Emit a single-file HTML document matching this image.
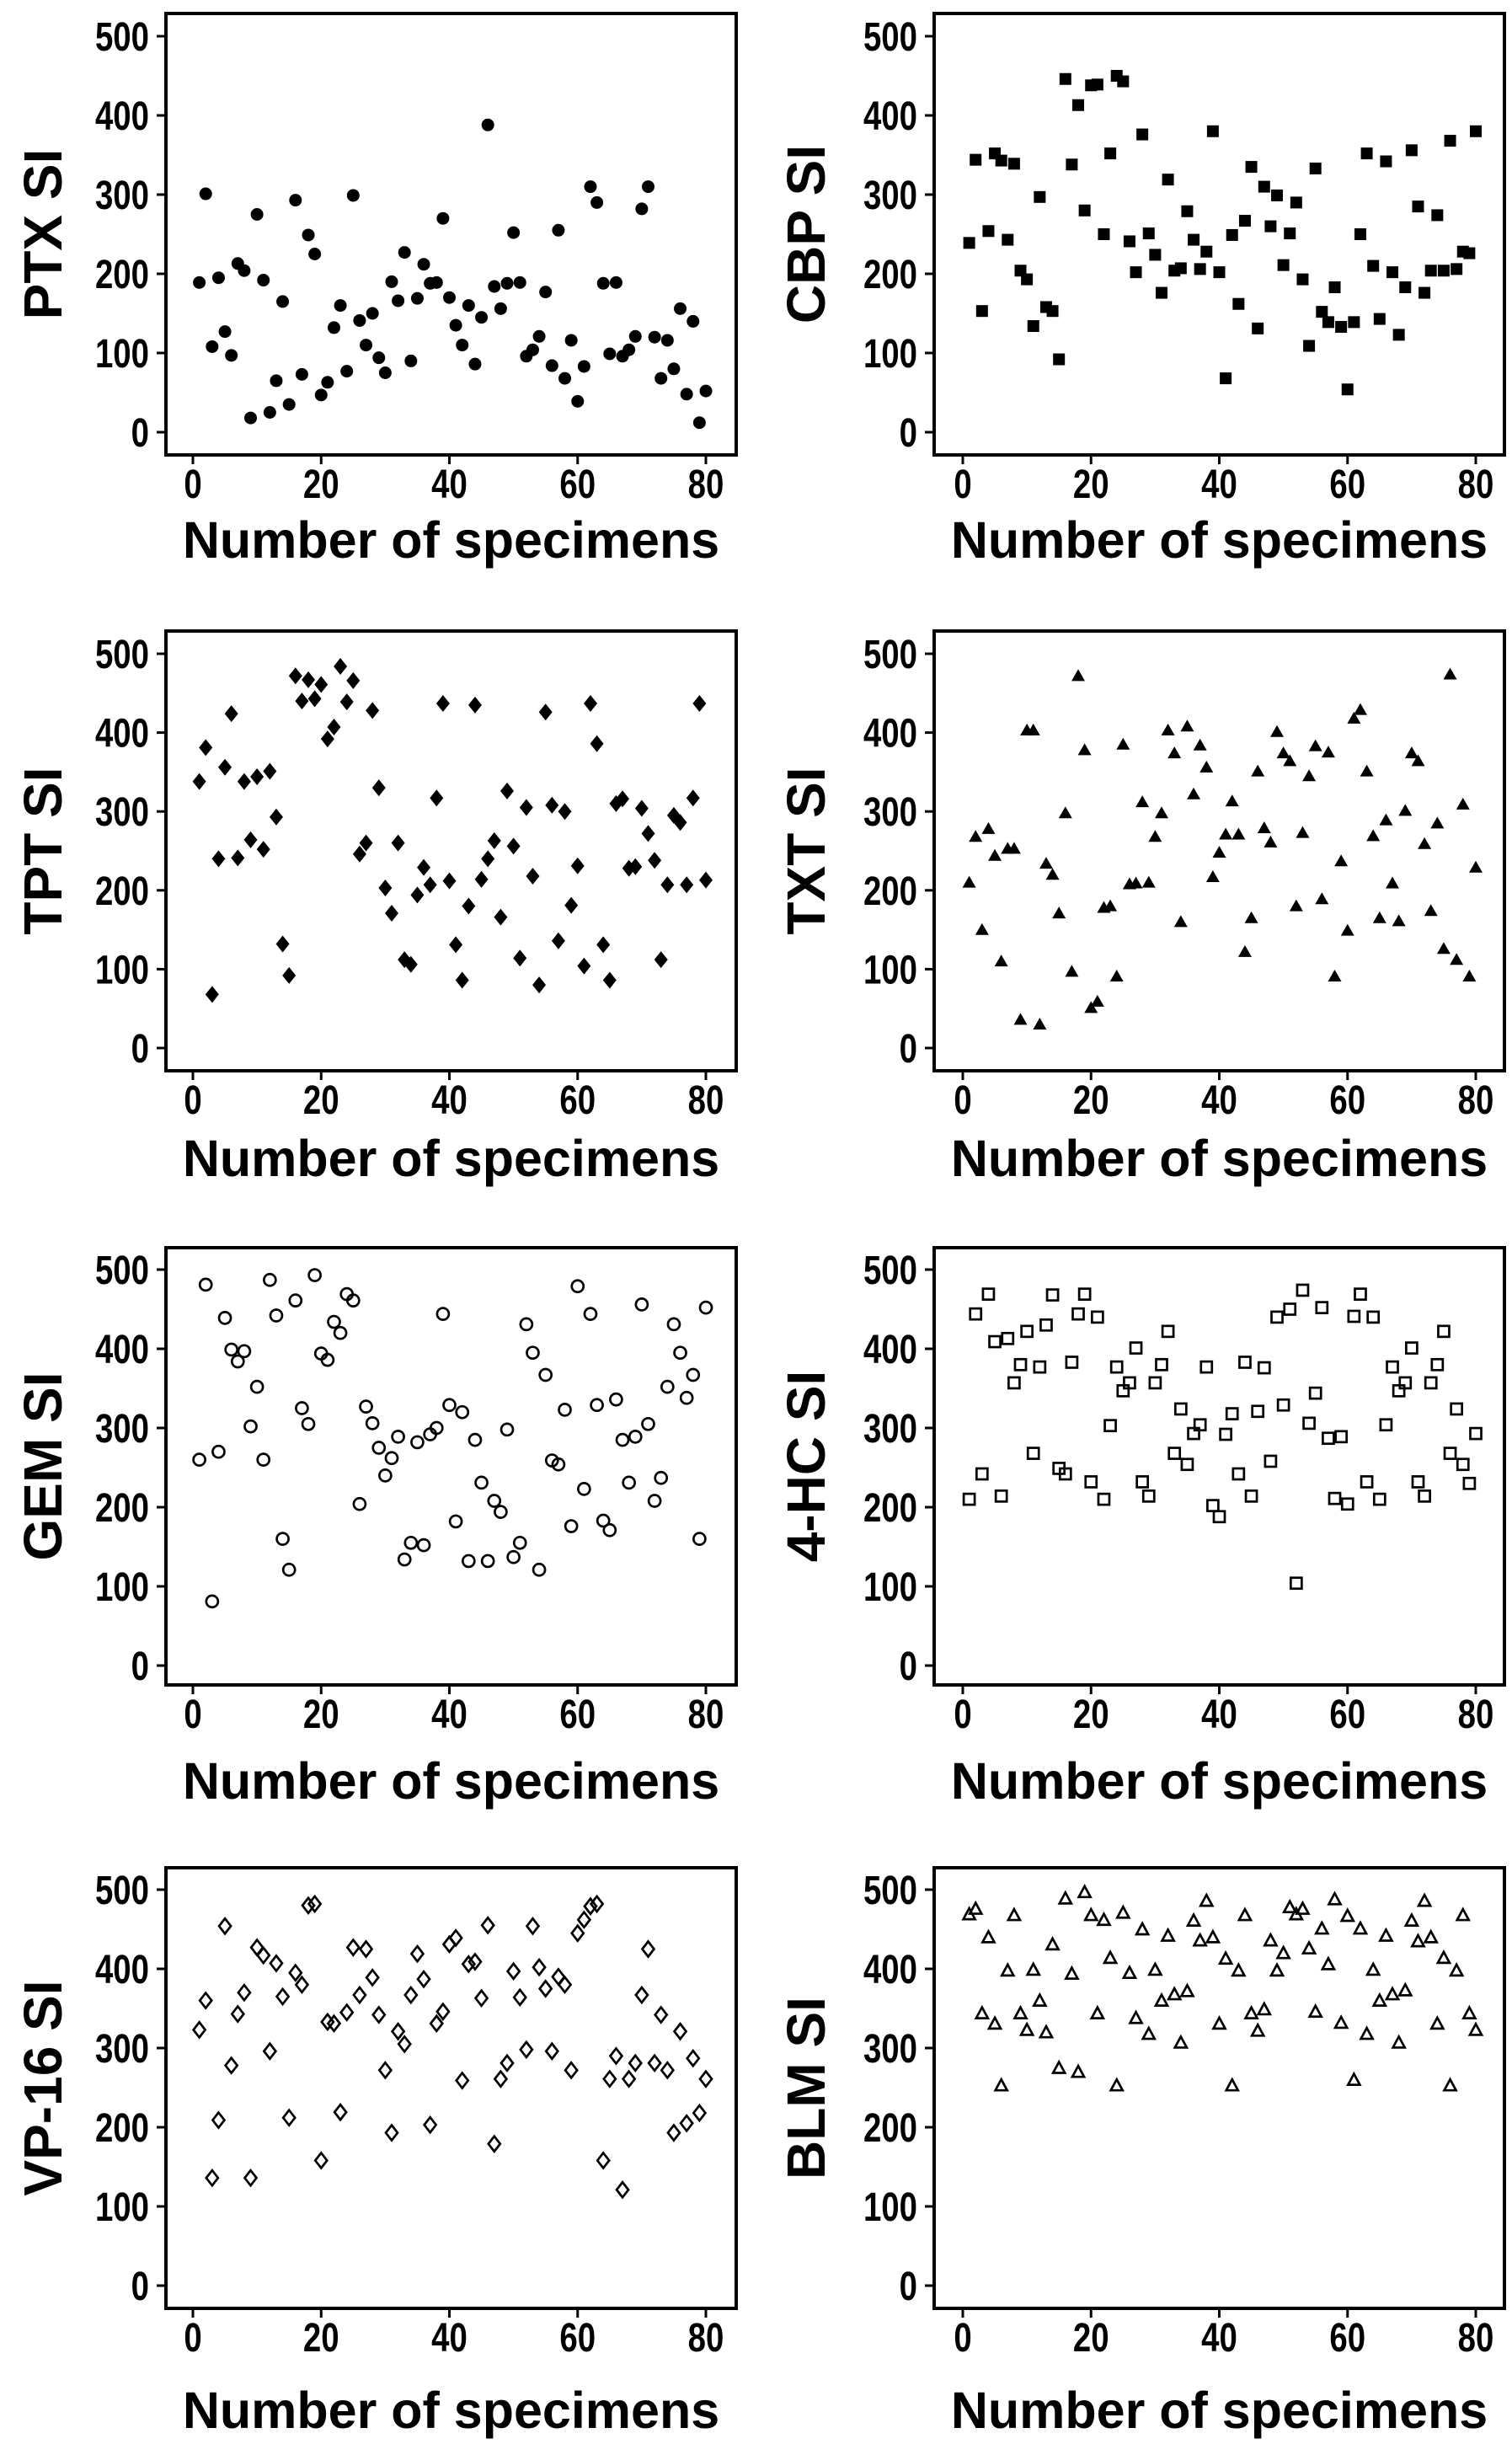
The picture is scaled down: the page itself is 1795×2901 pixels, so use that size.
<!DOCTYPE html>
<html><head><meta charset="utf-8"><title>SI scatter panels</title>
<style>
html,body{margin:0;padding:0;background:#fff;}
svg{display:block;}
text{font-family:"Liberation Sans",Arial,sans-serif;font-weight:bold;fill:#000;}
</style></head>
<body>
<svg id="fig" width="1795" height="2901" viewBox="0 0 1795 2901" xmlns="http://www.w3.org/2000/svg"></svg>
<script>
const xTicks = [0, 20, 40, 60, 80];
const yTicks = [0, 100, 200, 300, 400, 500];
const ptxValues = [189,301,108,195,127,97,213,204,18,275,192,25,65,165,35,293,73,249,225,47,63,132,160,77,299,141,110,150,94,75,190,166,227,90,169,212,188,189,270,170,135,110,160,86,145,388,184,156,188,252,189,96,104,121,177,84,255,68,116,39,83,310,290,188,99,189,96,104,121,282,310,120,68,116,80,156,48,140,12,52];
const cbpValues = [239,344,153,254,352,343,243,339,204,193,134,297,158,153,92,446,338,413,280,438,439,250,352,450,443,241,202,376,251,224,176,319,204,207,279,243,206,228,380,202,68,249,162,267,335,131,310,260,299,211,251,290,193,109,333,152,139,183,133,54,139,250,352,210,143,342,202,123,183,356,285,176,204,274,204,368,206,228,226,380];
const tptValues = [338,381,68,240,356,424,241,338,264,344,252,351,293,132,92,472,440,467,443,461,392,407,484,439,466,246,260,428,330,203,171,260,112,106,194,229,207,317,437,212,131,86,180,435,214,240,263,166,326,256,114,305,218,80,426,308,136,300,181,231,104,437,386,131,86,310,316,228,230,304,272,238,112,207,295,286,207,317,437,213];
const txtValues = [212,270,152,280,246,112,255,255,38,405,405,32,236,222,173,300,99,474,380,53,61,180,182,93,387,210,211,314,212,270,300,405,376,162,410,324,386,358,219,250,273,315,273,124,167,353,281,263,403,376,366,182,275,347,385,191,377,93,239,151,420,431,353,271,167,291,211,163,303,376,366,261,176,287,128,476,114,311,93,231];
const gemValues = [260,481,81,270,439,399,384,397,302,352,260,487,442,160,121,461,325,305,493,394,386,434,420,469,461,204,327,306,275,240,262,289,134,155,282,152,292,300,444,329,182,320,132,285,231,132,208,194,298,137,155,431,395,121,367,259,254,323,176,479,223,444,329,183,171,336,285,231,289,456,305,208,237,352,431,395,338,367,160,452];
const hcValues = [210,444,242,469,409,214,413,357,380,422,268,377,430,468,249,242,383,444,469,232,440,210,303,377,347,357,401,232,214,357,380,422,268,324,254,293,304,377,202,188,292,318,242,383,214,321,376,258,440,329,450,104,474,306,344,452,287,211,289,204,441,469,232,440,210,304,377,347,357,401,232,214,357,380,422,268,324,254,230,293];
const vpValues = [323,360,136,209,454,278,343,370,136,427,417,296,407,365,212,395,380,480,482,158,333,331,219,345,427,367,425,389,342,272,193,321,305,367,419,387,203,331,346,431,439,259,406,409,363,455,179,261,281,397,364,298,454,402,375,296,390,380,272,445,462,479,482,158,261,290,121,261,281,367,425,281,342,272,193,321,205,287,218,261];
const blmValues = [469,476,344,440,331,253,398,468,344,323,399,360,320,431,275,489,394,270,497,468,344,462,414,253,471,395,338,450,318,399,360,442,368,307,372,461,436,486,440,331,413,253,398,468,344,322,349,436,398,420,478,469,476,426,346,451,406,488,332,467,260,451,318,399,360,442,368,307,373,461,435,486,440,331,414,253,398,468,344,323];

const NS = 'http://www.w3.org/2000/svg';
const svg = document.getElementById('fig');
function mk(tag, attrs, parent){
  const e = document.createElementNS(NS, tag);
  for (const k in attrs) e.setAttribute(k, attrs[k]);
  (parent || svg).appendChild(e);
  return e;
}

const cols = [
  {fl:197, fr:874, x0:229, x80:838, ytitle:50},
  {fl:1109, fr:1786, x0:1143, x80:1752, ytitle:956}
];
const rows = [
  {ft:16, fb:540, y500:43, y0:513, tb:662},
  {ft:749, fb:1271, y500:776, y0:1244, tb:1396},
  {ft:1481, fb:2000, y500:1507, y0:1977, tb:2135},
  {ft:2217, fb:2740, y500:2243, y0:2713, tb:2882}
];

function drawPanel(label, name, values, marker, c, r){
  const C = cols[c], R = rows[r];
  const g = mk('g', {});
  
  
  const sx = v => C.x0 + (C.x80 - C.x0) * v / 80;
  const sy = v => R.y0 + (R.y500 - R.y0) * v / 500;

  const frame = mk('rect', {x:C.fl, y:R.ft, width:C.fr-C.fl, height:R.fb-R.ft, fill:'none', stroke:'#000', 'stroke-width':4}, g);
  
  

  xTicks.forEach(t => {
    const x = sx(t);
    const tk = mk('line', {x1:x, x2:x, y1:R.fb, y2:R.fb+11, stroke:'#000', 'stroke-width':3}, g);
    
    
    const tl = mk('text', {x:0, y:0, 'font-size':48, 'text-anchor':'middle', transform:`translate(${x},${R.fb+51}) scale(0.8,1)`}, g);
    tl.textContent = t;
    
    
  });
  yTicks.forEach(t => {
    const y = sy(t);
    const tk = mk('line', {x1:C.fl-11, x2:C.fl, y1:y, y2:y, stroke:'#000', 'stroke-width':3}, g);
    
    
    const tl = mk('text', {x:0, y:0, 'font-size':48, 'text-anchor':'end', transform:`translate(${C.fl-20},${y+17}) scale(0.8,1)`}, g);
    tl.textContent = t;
    
    
  });

  const xt = mk('text', {x:(C.fl+C.fr)/2, y:R.tb, 'font-size':61, 'text-anchor':'middle'}, g);
  xt.textContent = 'Number of specimens';
  
  

  const cy = (R.ft + R.fb) / 2;
  const yt = mk('text', {x:C.ytitle, y:cy, 'font-size':64, 'text-anchor':'middle', transform:'rotate(-90 '+C.ytitle+' '+cy+')', dy:23}, g);
  yt.textContent = label;
  
  

  values.forEach((v, i) => {
    const x = sx(i + 1), y = sy(v);
    let m;
    if (marker === 'circle') m = mk('circle', {cx:x, cy:y, r:7.5, fill:'#000'}, g);
    else if (marker === 'square') m = mk('rect', {x:x-7, y:y-7, width:14, height:14, fill:'#000'}, g);
    else if (marker === 'diamond') m = mk('polygon', {points:`${x},${y-10} ${x+8},${y} ${x},${y+10} ${x-8},${y}`, fill:'#000'}, g);
    else if (marker === 'triangle') m = mk('polygon', {points:`${x},${y-6} ${x+8},${y+8} ${x-8},${y+8}`, fill:'#000'}, g);
    else if (marker === 'ocircle') m = mk('circle', {cx:x, cy:y, r:7, fill:'none', stroke:'#000', 'stroke-width':2.7}, g);
    else if (marker === 'osquare') m = mk('rect', {x:x-6.5, y:y-6.5, width:13, height:13, fill:'none', stroke:'#000', 'stroke-width':2.7}, g);
    else if (marker === 'odiamond') m = mk('polygon', {points:`${x},${y-9} ${x+7},${y} ${x},${y+9} ${x-7},${y}`, fill:'none', stroke:'#000', 'stroke-width':2.7}, g);
    else m = mk('polygon', {points:`${x},${y-7} ${x+7},${y+6} ${x-7},${y+6}`, fill:'none', stroke:'#000', 'stroke-width':2.7}, g);
    
    
  });
}

drawPanel('PTX SI', 'ptx', ptxValues, 'circle', 0, 0);
drawPanel('CBP SI', 'cbp', cbpValues, 'square', 1, 0);
drawPanel('TPT SI', 'tpt', tptValues, 'diamond', 0, 1);
drawPanel('TXT SI', 'txt', txtValues, 'triangle', 1, 1);
drawPanel('GEM SI', 'gem', gemValues, 'ocircle', 0, 2);
drawPanel('4-HC SI', 'hc', hcValues, 'osquare', 1, 2);
drawPanel('VP-16 SI', 'vp16', vpValues, 'odiamond', 0, 3);
drawPanel('BLM SI', 'blm', blmValues, 'otriangle', 1, 3);
</script>
</body></html>
